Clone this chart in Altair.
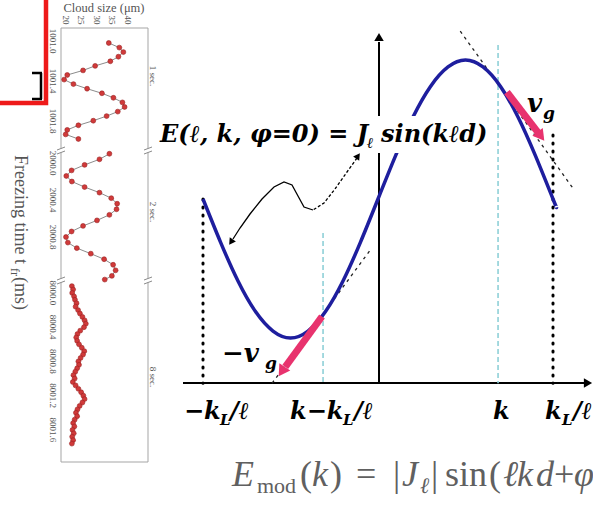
import altair as alt
import pandas as pd

W, H = 593, 508

# ---------------- data: left panel (cloud size vs freezing time) ----------------
seg1_time = [1001.02, 1001.066, 1001.111, 1001.157, 1001.203, 1001.249, 1001.294, 1001.34,
             1001.386, 1001.431, 1001.477, 1001.523, 1001.568, 1001.614, 1001.66, 1001.706,
             1001.751, 1001.797, 1001.843, 1001.889, 1001.934, 1001.98]
seg1_size = [33.8, 37.2, 38.5, 36.9, 34.3, 29.4, 25.5, 20.4, 19.4, 22.4, 26.8, 31.6,
             35.3, 38.2, 38.9, 36.7, 33.1, 28.8, 24.0, 20.4, 19.9, 24.0]

seg2_time = [1999.90, 1999.96, 2000.02, 2000.08, 2000.14, 2000.20, 2000.26, 2000.32,
             2000.38, 2000.44, 2000.50, 2000.56, 2000.62, 2000.68, 2000.74, 2000.80,
             2000.86, 2000.92, 2000.98, 2001.04, 2001.10, 2001.16, 2001.22, 2001.26]
seg2_size = [34.0, 30.8, 26.0, 21.8, 20.1, 21.9, 26.0, 30.8, 34.6, 36.5, 36.3, 34.0,
             30.0, 25.5, 21.8, 20.0, 20.6, 23.5, 28.0, 32.3, 35.2, 36.0, 34.8, 32.5]

seg3_time = [7999.92, 7999.96, 8000.00, 8000.04, 8000.08, 8000.12, 8000.16, 8000.20,
             8000.24, 8000.28, 8000.32, 8000.36, 8000.40, 8000.44, 8000.48, 8000.52,
             8000.56, 8000.60, 8000.64, 8000.68, 8000.72, 8000.76, 8000.80, 8000.84,
             8000.88, 8000.92, 8000.96, 8001.00, 8001.04, 8001.08, 8001.12, 8001.16,
             8001.20, 8001.24, 8001.28, 8001.32, 8001.36, 8001.40, 8001.44, 8001.48,
             8001.52, 8001.56, 8001.60, 8001.64, 8001.68, 8001.72, 8001.76]
seg3_size = [21.9, 22.3, 22.0, 22.6, 22.9, 23.4, 23.1, 23.9, 24.5, 25.3, 26.0, 26.4,
             25.8, 24.6, 23.7, 23.3, 23.6, 24.2, 25.1, 25.9, 25.5, 24.7, 24.0, 24.2,
             23.6, 23.0, 22.4, 22.8, 22.2, 23.1, 24.0, 24.9, 25.6, 26.0, 25.3, 24.4,
             23.7, 23.2, 23.6, 22.8, 22.3, 22.7, 22.1, 22.5, 22.0, 22.3, 21.9]

size_ticks = [20, 25, 30, 35, 40]
seg1_ticks = ["1001.0", "1001.4", "1001.8"]
seg2_ticks = ["2000.0", "2000.4", "2000.8"]
seg3_ticks = ["8000.0", "8000.4", "8000.8", "8001.2", "8001.6"]
seg_names = ["1 sec.", "2 sec.", "8 sec."]

# ---------------- data: right schematic E(k) ----------------
k_vals = [-1.0, -0.9, -0.8, -0.7, -0.6, -0.5, -0.4, -0.3, -0.2, -0.1, 0.0,
          0.1, 0.2, 0.3, 0.4, 0.5, 0.6, 0.7, 0.8, 0.9, 1.0, 1.02]
E_vals = [0.0, -0.31, -0.59, -0.81, -0.95, -1.0, -0.95, -0.81, -0.59, -0.31, 0.0,
          0.31, 0.59, 0.81, 0.95, 1.0, 0.95, 0.81, 0.59, 0.31, 0.0, -0.06]
E_axis = -1.325
dotted_k = [-1.0, 1.0]
dotted_top = [0.0, 0.46]
cyan_k = [-0.314, 0.686]
cyan_top = [-0.245, 1.108]
tan_k1 = [0.47, -0.605]
tan_E1 = [1.207, -1.325]
tan_k2 = [1.12, -0.04]
tan_E2 = [0.067, -0.36]
vg_k1 = [0.737, -0.32]
vg_E1 = [0.769, -0.845]
vg_k2 = [0.915, -0.53]
vg_E2 = [0.477, -1.208]
vg_headk = [0.931, -0.55]
vg_headE = [0.451, -1.242]
vg_angle = [53, 123]


def sc(dom, rng):
    return alt.Scale(domain=dom, range=rng, nice=False, zero=False)


def cx():
    return sc([0, W], [0, W])


def cy():
    return sc([0, H], [0, H])


def KX():
    return sc([-1, 1], [203, 553])


def EY():
    return sc([-1, 1], [338, 60])


def LX():
    return sc([18.39, 46.45], [61, 148])


def Y1():
    return sc([1000.97, 1002.09], [38, 150])


def Y2():
    return sc([1999.87, 2001.27], [151, 280.5])


def Y3():
    return sc([7999.88, 8001.97], [282.7, 461.6])


def segs(rows, **kw):
    df = pd.DataFrame(rows, columns=["x", "y", "x2", "y2"])
    return alt.Chart(df).mark_rule(**kw).encode(
        x=alt.X("x:Q", scale=cx(), axis=None),
        y=alt.Y("y:Q", scale=cy(), axis=None),
        x2="x2:Q", y2="y2:Q")


def texts(rows, **kw):
    df = pd.DataFrame(rows, columns=["x", "y", "t", "s"])
    return alt.Chart(df).mark_text(**kw).encode(
        x=alt.X("x:Q", scale=cx(), axis=None),
        y=alt.Y("y:Q", scale=cy(), axis=None),
        text="t:N",
        size=alt.Size("s:Q", scale=None, legend=None))


def heads(rows, color, size):
    df = pd.DataFrame(rows, columns=["x", "y", "a"])
    return alt.Chart(df).mark_point(shape="triangle-right", filled=True, color=color,
                                    size=size, opacity=1).encode(
        x=alt.X("x:Q", scale=cx(), axis=None),
        y=alt.Y("y:Q", scale=cy(), axis=None),
        angle=alt.Angle("a:Q", scale=None))


layers = []

# ---------- red box with bracket ----------
red = pd.DataFrame({"x": [-6], "x2": [46], "y": [-6], "y2": [103]})
layers.append(alt.Chart(red).mark_rect(fill="white", stroke="#ee1a1a", strokeWidth=4.5).encode(
    x=alt.X("x:Q", scale=cx(), axis=None), x2="x2:Q",
    y=alt.Y("y:Q", scale=cy(), axis=None), y2="y2:Q"))
layers.append(segs([(32, 73, 42, 73), (41, 73, 41, 99), (32, 99, 42, 99)],
                   color="black", strokeWidth=2.5))

# ---------- left panel frame ----------
fl, fr, ft, fb = 61, 148, 28, 462
frame = [(fl, ft, fr, ft), (fl, fb, fr, fb)]
for xx in (fl, fr):
    frame += [(xx, ft, xx, 148.5), (xx, 152.5, xx, 278.5), (xx, 282.5, xx, fb)]
layers.append(segs(frame, color="#a5a5a5", strokeWidth=1))
brk = []
for xx in (fl, fr):
    for yb in (150.5, 280.5):
        brk += [(xx - 4, yb - 0.5, xx + 4, yb - 3.5), (xx - 4, yb + 3.5, xx + 4, yb + 0.5)]
layers.append(segs(brk, color="#8a8a8a", strokeWidth=1))

# data segments
for times, sizes, ticks, ysc in ((seg1_time, seg1_size, seg1_ticks, Y1),
                                 (seg2_time, seg2_size, seg2_ticks, Y2),
                                 (seg3_time, seg3_size, seg3_ticks, Y3)):
    df = pd.DataFrame({"t": times, "v": sizes})
    base = alt.Chart(df).encode(x=alt.X("v:Q", scale=LX(), axis=None),
                                y=alt.Y("t:Q", scale=ysc(), axis=None),
                                order=alt.Order("t:Q"))
    layers.append(base.mark_line(color="#8c8c8c", strokeWidth=1))
    layers.append(base.mark_circle(size=24, color="#d03a3a", opacity=1,
                                   stroke="#9a2020", strokeWidth=0.6))
    tdf = pd.DataFrame({"t": [float(s) for s in ticks], "lab": ticks})
    layers.append(alt.Chart(tdf).mark_text(angle=90, font="Liberation Serif", fontSize=9,
                                           color="#555555").encode(
        x=alt.value(53), y=alt.Y("t:Q", scale=ysc(), axis=None), text="lab:N"))

sdf = pd.DataFrame({"v": size_ticks, "lab": [str(v) for v in size_ticks]})
layers.append(alt.Chart(sdf).mark_text(angle=90, font="Liberation Serif", fontSize=9,
                                       color="#555555").encode(
    x=alt.X("v:Q", scale=LX(), axis=None), y=alt.value(20), text="lab:N"))

layers.append(texts([(104, 8, "Cloud size (μm)", 12.5)], font="Liberation Serif",
                    color="#555555", align="center", baseline="middle"))
layers.append(texts([(153, 76, seg_names[0], 9), (153, 212, seg_names[1], 9),
                     (153, 377, seg_names[2], 9)], font="Liberation Serif",
                    color="#555555", angle=90, align="center", baseline="middle"))
layers.append(texts([(20, 155, "Freezing time t", 18), (15, 268, "fr", 12),
                     (20, 277, " (ms)", 18)], font="Liberation Serif",
                    color="#555555", angle=90, align="left", baseline="middle"))

# ---------- right schematic ----------
layers.append(segs([(183, 383, 584, 383), (379, 383, 379, 42)], color="black", strokeWidth=2))
layers.append(heads([(588, 383, 0), (379, 37, 270)], "black", 90))

gl = pd.DataFrame({"k": dotted_k, "E": dotted_top, "E2": [E_axis, E_axis]})
layers.append(alt.Chart(gl).mark_rule(color="black", strokeWidth=3, strokeDash=[1, 7],
                                      strokeCap="round").encode(
    x=alt.X("k:Q", scale=KX(), axis=None), y=alt.Y("E:Q", scale=EY(), axis=None), y2="E2:Q"))
cl = pd.DataFrame({"k": cyan_k, "E": cyan_top, "E2": [E_axis, E_axis]})
layers.append(alt.Chart(cl).mark_rule(color="#8fd0d8", strokeWidth=1.6, strokeDash=[5, 3]).encode(
    x=alt.X("k:Q", scale=KX(), axis=None), y=alt.Y("E:Q", scale=EY(), axis=None), y2="E2:Q"))
tl = pd.DataFrame({"k": tan_k1, "E": tan_E1, "k2": tan_k2, "E2": tan_E2})
layers.append(alt.Chart(tl).mark_rule(color="#222222", strokeWidth=1.3, strokeDash=[3, 4]).encode(
    x=alt.X("k:Q", scale=KX(), axis=None), y=alt.Y("E:Q", scale=EY(), axis=None),
    x2="k2:Q", y2="E2:Q"))

cdf = pd.DataFrame({"k": k_vals, "E": E_vals})
layers.append(alt.Chart(cdf).mark_line(color="#1e1e9e", strokeWidth=3.5, interpolate="natural").encode(
    x=alt.X("k:Q", scale=KX(), axis=None), y=alt.Y("E:Q", scale=EY(), axis=None),
    order=alt.Order("k:Q")))

# white box behind the formula
wb = pd.DataFrame({"x": [152], "x2": [496], "y": [116], "y2": [153]})
layers.append(alt.Chart(wb).mark_rect(color="white").encode(
    x=alt.X("x:Q", scale=cx(), axis=None), x2="x2:Q",
    y=alt.Y("y:Q", scale=cy(), axis=None), y2="y2:Q"))

# pink group-velocity arrows
vdf = pd.DataFrame({"k": vg_k1, "E": vg_E1, "k2": vg_k2, "E2": vg_E2})
layers.append(alt.Chart(vdf).mark_rule(color="#e8336e", strokeWidth=7).encode(
    x=alt.X("k:Q", scale=KX(), axis=None), y=alt.Y("E:Q", scale=EY(), axis=None),
    x2="k2:Q", y2="E2:Q"))
hdf = pd.DataFrame({"k": vg_headk, "E": vg_headE, "a": vg_angle})
layers.append(alt.Chart(hdf).mark_point(shape="triangle-right", filled=True, color="#e8336e",
                                        size=170, opacity=1).encode(
    x=alt.X("k:Q", scale=KX(), axis=None), y=alt.Y("E:Q", scale=EY(), axis=None),
    angle=alt.Angle("a:Q", scale=None)))

# curly double arrow
path1 = pd.DataFrame({"x": [357, 347, 335, 324, 313], "y": [158, 172, 189, 203, 210],
                      "o": [0, 1, 2, 3, 4]})
path2 = pd.DataFrame({"x": [313, 304, 298, 292, 284, 274, 262, 250, 240, 233],
                      "y": [210, 207, 196, 185, 182, 187, 199, 214, 228, 239],
                      "o": list(range(10))})
for p, dash in ((path1, [3, 2]), (path2, None)):
    kw = {"color": "black", "strokeWidth": 1.3}
    if dash:
        kw["strokeDash"] = dash
    layers.append(alt.Chart(p).mark_line(**kw).encode(
        x=alt.X("x:Q", scale=cx(), axis=None), y=alt.Y("y:Q", scale=cy(), axis=None),
        order="o:Q"))
layers.append(heads([(358, 156, 305), (231, 242, 124)], "black", 55))

# formula and labels (bold italic)
bi = dict(font="DejaVu Serif", fontWeight="bold", fontStyle="italic", color="black",
          align="left", baseline="alphabetic")
layers.append(texts([
    (160, 142, "E(ℓ, k, φ=0) = J", 24), (367, 148, "ℓ", 15), (381, 142, "sin(kℓd)", 24),
    (527, 112, "v", 26), (543, 119, "g", 17),
    (222, 362, "−v", 26), (265, 369, "g", 17),
    (184, 419, "−k", 24), (220, 425, "L", 15), (230, 419, "/ℓ", 24),
    (290, 419, "k−k", 24), (343, 425, "L", 15), (354, 419, "/ℓ", 24),
    (493, 419, "k", 24),
    (545, 419, "k", 24), (562, 425, "L", 15), (573, 419, "/ℓ", 24),
], **bi))

# bottom formula (gray, serif)
gr = dict(font="Liberation Serif", color="#606060", align="left", baseline="alphabetic")
layers.append(texts([
    (232, 486, "E", 36), (312, 486, "k", 36), (402, 486, "J", 36), (420, 493, "ℓ", 22),
    (503, 486, "ℓ", 36), (517, 486, "k", 36), (536, 486, "d", 36), (574, 486, "φ", 36),
], fontStyle="italic", **gr))
layers.append(texts([
    (257, 493, "mod", 22), (300, 486, "(", 36), (330, 486, ")", 36), (356, 486, "=", 36),
    (393, 486, "|", 36), (431, 486, "|", 36), (445, 486, "sin", 36), (489, 486, "(", 36),
    (554, 486, "+", 36),
], **gr))

chart = alt.layer(*layers).resolve_scale(x="independent", y="independent").properties(
    width=W, height=H, padding=0, autosize=alt.AutoSizeParams(type="none"),
    background="white").configure_view(stroke=None)

chart.save("out.html", embed_options={"renderer": "svg", "actions": False})
